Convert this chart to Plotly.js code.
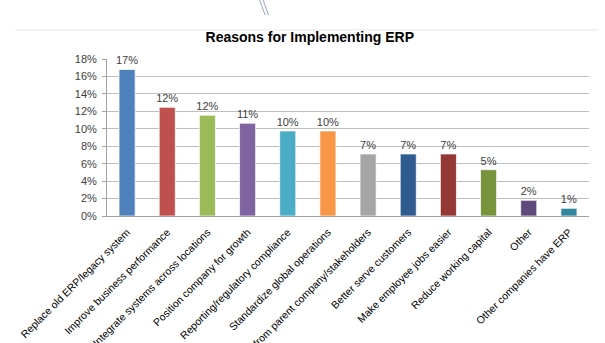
<!DOCTYPE html>
<html>
<head>
<meta charset="utf-8">
<script src="https://cdn.plot.ly/plotly-3.0.1.min.js"></script>
<style>
html,body{margin:0;padding:0;background:#fff;}
#chart{width:605px;height:343px;}
</style>
</head>
<body>
<div id="chart"></div>
<script>
var categories = [
  "Replace old ERP/legacy system",
  "Improve business performance",
  "Integrate systems across locations",
  "Position company for growth",
  "Reporting/regulatory compliance",
  "Standardize global operations",
  "Pressure from parent company/stakeholders",
  "Better serve customers",
  "Make employee jobs easier",
  "Reduce working capital",
  "Other",
  "Other companies have ERP"
];
var shares = [0.168, 0.1246, 0.1155, 0.1063, 0.0975, 0.0975, 0.0711, 0.0711, 0.0711, 0.0531, 0.018, 0.0088];
var barColors = ["#4F81BD", "#C0504D", "#9BBB59", "#8064A2", "#4BACC6", "#F79646",
                 "#A5A5A5", "#2F5B8E", "#953735", "#77933C", "#604A7B", "#31859C"];
var yTicks = [0, 0.02, 0.04, 0.06, 0.08, 0.10, 0.12, 0.14, 0.16, 0.18];
var chartTitle = "Reasons for Implementing ERP";

var fontFam = "Liberation Sans, Arial, sans-serif";

var trace = {
  type: "bar",
  x: categories,
  y: shares,
  marker: {color: barColors, line: {color: "rgba(255,255,255,0.7)", width: 1}},
  texttemplate: "%{y:.0%}",
  textposition: "outside",
  constraintext: "none",
  cliponaxis: false,
  textfont: {family: fontFam, size: 11, color: "#404040"},
  hoverinfo: "x+y"
};

var layout = {
  width: 605, height: 343,
  margin: {l: 107, r: 16, t: 59, b: 127, pad: 0},
  paper_bgcolor: "#fff",
  plot_bgcolor: "#fff",
  showlegend: false,
  bargap: 0.6,
  title: {
    text: "<b>" + chartTitle + "</b>",
    font: {family: fontFam, size: 14, color: "#000"},
    x: 0.512, xref: "container", xanchor: "center",
    y: 0.892, yref: "container", yanchor: "middle"
  },
  xaxis: {
    type: "category",
    tickangle: -45,
    tickfont: {family: fontFam, size: 10.5, color: "#000"},
    showline: true, linecolor: "#A0A0A0", linewidth: 1,
    ticks: "", ticklabelstandoff: 5, automargin: false, showgrid: false
  },
  yaxis: {
    range: [0, 0.18],
    tickvals: yTicks,
    tickformat: ".0%",
    tickfont: {family: fontFam, size: 11, color: "#404040"},
    showline: true, linecolor: "#A0A0A0", linewidth: 1,
    ticks: "outside", ticklen: 4, tickcolor: "#A0A0A0",
    ticklabelstandoff: 3,
    showgrid: true, gridcolor: "#BEBEBE", gridwidth: 1,
    zeroline: false, automargin: false
  },
  shapes: [
    {type: "line", xref: "paper", yref: "paper", x0: -0.19, x1: 1.02, y0: 1.185, y1: 1.185,
     line: {color: "#E6E6E6", width: 1}},
    {type: "line", xref: "paper", yref: "paper", x0: 0.317, x1: 0.328, y0: 1.375, y1: 1.28,
     line: {color: "#8090B0", width: 0.8}},
    {type: "line", xref: "paper", yref: "paper", x0: 0.324, x1: 0.335, y0: 1.375, y1: 1.28,
     line: {color: "#8090B0", width: 0.8}}
  ]
};

Plotly.newPlot("chart", [trace], layout, {displayModeBar: false, staticPlot: true});
</script>
</body>
</html>
